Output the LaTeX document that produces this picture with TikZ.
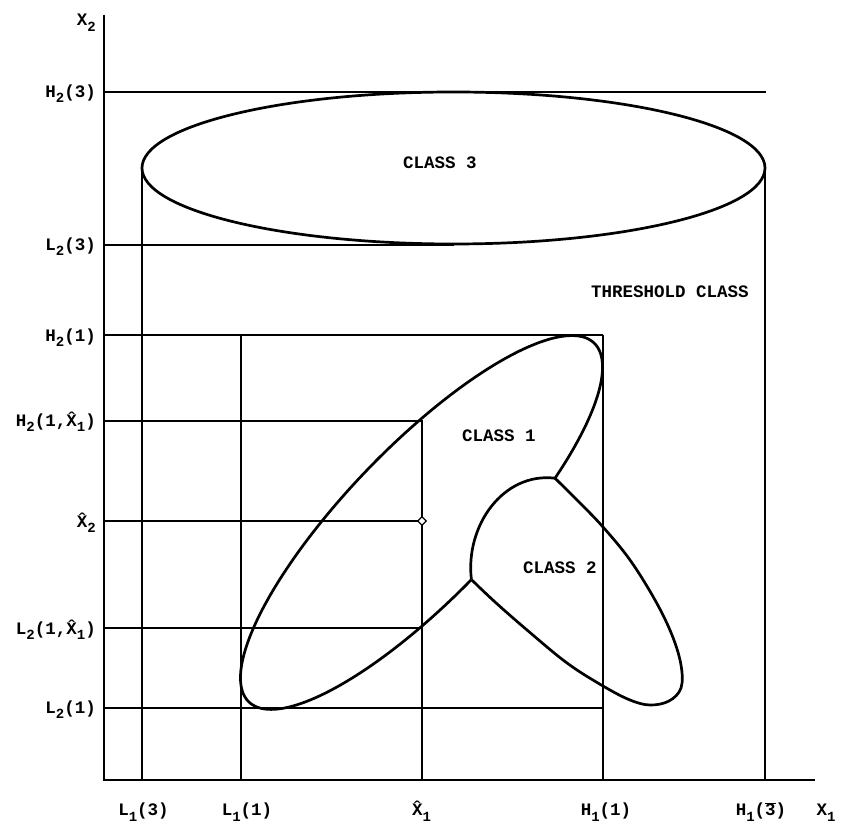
\documentclass[tikz,border=0pt]{standalone}
\usepackage{fontspec}
\setmainfont{Liberation Mono}
\usetikzlibrary{shapes.geometric}
\newcommand{\lsub}[1]{\raisebox{-0.55ex}{\fontsize{14}{14}\selectfont #1}}
\newcommand{\obar}[1]{$\overline{\hbox{#1}}$}
\begin{document}
\begin{tikzpicture}[x=1pt,y=1pt,
  gridline/.style={line width=2pt},
  curve/.style={line width=2.7pt, line join=round},
  axisline/.style={line width=2.8pt},
  lbl/.style={inner sep=0pt, font=\fontsize{17.5}{20}\selectfont\bfseries},
  leftlbl/.style={lbl, anchor=base east},
  botlbl/.style={lbl, anchor=base},
  ]
\useasboundingbox (0,0) rectangle (847,828);

% axes
\coordinate (O) at (104,48);
\coordinate (Ytop) at (104,813);
\coordinate (Xend) at (815,48);
\draw[axisline] (Ytop) -- (O) -- (Xend);

% class 3 region
\draw[curve] (453.5,660) ellipse [x radius=311.5, y radius=76];
\coordinate (H23a) at (104,736);   \coordinate (H23b) at (766,736);
\coordinate (L23a) at (104,583);   \coordinate (L23b) at (453.5,583);
\coordinate (L13t) at (142,660);   \coordinate (L13b) at (142,48);
\coordinate (H13t) at (765,660);   \coordinate (H13b) at (765,48);
\draw[gridline] (H23a) -- (H23b);
\draw[gridline] (L23a) -- (L23b);
\draw[gridline] (L13t) -- (L13b);
\draw[gridline] (H13t) -- (H13b);

% class 1 box and guides
\coordinate (H21a) at (104,493); \coordinate (H21b) at (603,493);
\coordinate (L21a) at (104,120); \coordinate (L21b) at (603,120);
\coordinate (L11t) at (241,493); \coordinate (L11b) at (241,48);
\coordinate (H11t) at (603,493); \coordinate (H11b) at (603,48);
\coordinate (Hxa) at (104,407);  \coordinate (Hxb) at (422,407);
\coordinate (Xha) at (104,307);  \coordinate (Xc) at (422,307);
\coordinate (Lxa) at (104,200);  \coordinate (Lxb) at (422,200);
\coordinate (X1b) at (422,48);
\draw[gridline] (H21a) -- (H21b);
\draw[gridline] (L21a) -- (L21b);
\draw[gridline] (L11t) -- (L11b);
\draw[gridline] (H11t) -- (H11b);
\draw[gridline] (Hxa) -- (Hxb) -- (X1b);
\draw[gridline] (Xha) -- (Xc);
\draw[gridline] (Lxa) -- (Lxb);

% class 1 ellipse (cut by class 2)
\coordinate (J1) at (555,349.8);
\coordinate (J2) at (471.4,248.4);
\draw[curve] plot[domain=-60:268.5, samples=160, smooth, variable=\t]
  ({421.5 + 249*cos(\t)*0.6934 - 75.6*sin(\t)*0.7206},
   {305.5 + 249*cos(\t)*0.7206 + 75.6*sin(\t)*0.6934});

% class 2
\draw[curve] (J2) .. controls (465,302) and (503,356) .. (J1);
\draw[curve] plot[smooth, tension=0.6] coordinates {
  (555,349.8) (579,326) (603,301) (630,268) (655,228) (672,193)
  (681,163) (681,140) (669,127) (650,123) (630,128) (603,142)
  (567,165) (527,198) (495,226) (471.4,248.4)};

\node[diamond, draw, fill=white, line width=1.3pt, minimum size=9pt, inner sep=0pt] (pt) at (Xc) {};

% class labels
\node[lbl] (c3) at (440,665) {CLASS 3};
\node[lbl] (thr) at (670,536) {THRESHOLD CLASS};
\node[lbl] (c1) at (499,392) {CLASS 1};
\node[lbl] (c2) at (560,260) {CLASS 2};

% axis labels (left)
\node[leftlbl] (lx2) at (96,802) {X\lsub{2}};
\node[leftlbl] (lh23) at (96,730.5) {H\lsub{2}(3)};
\node[leftlbl] (ll23) at (96,577.5) {L\lsub{2}(3)};
\node[leftlbl] (lh21) at (96,486.8) {H\lsub{2}(1)};
\node[leftlbl] (lh21x) at (96,401.5) {H\lsub{2}(1,\^{X}\lsub{1})};
\node[leftlbl] (lxh2) at (96,300.8) {\^{X}\lsub{2}};
\node[leftlbl] (ll21x) at (96,193.5) {L\lsub{2}(1,\^{X}\lsub{1})};
\node[leftlbl] (ll21) at (96,114.5) {L\lsub{2}(1)};

% axis labels (bottom)
\node[botlbl] (bl13) at (143.5,12) {L\lsub{1}(3)};
\node[botlbl] (bl11) at (247,12) {L\lsub{1}(1)};
\node[botlbl] (bxh1) at (421.5,12) {\^{X}\lsub{1}};
\node[botlbl] (bh11) at (606,12) {H\lsub{1}(1)};
\node[botlbl] (bh13) at (761,12) {H\lsub{1}(\obar{3})};
\node[botlbl] (bx1) at (826,12) {X\lsub{1}};
\end{tikzpicture}
\end{document}
